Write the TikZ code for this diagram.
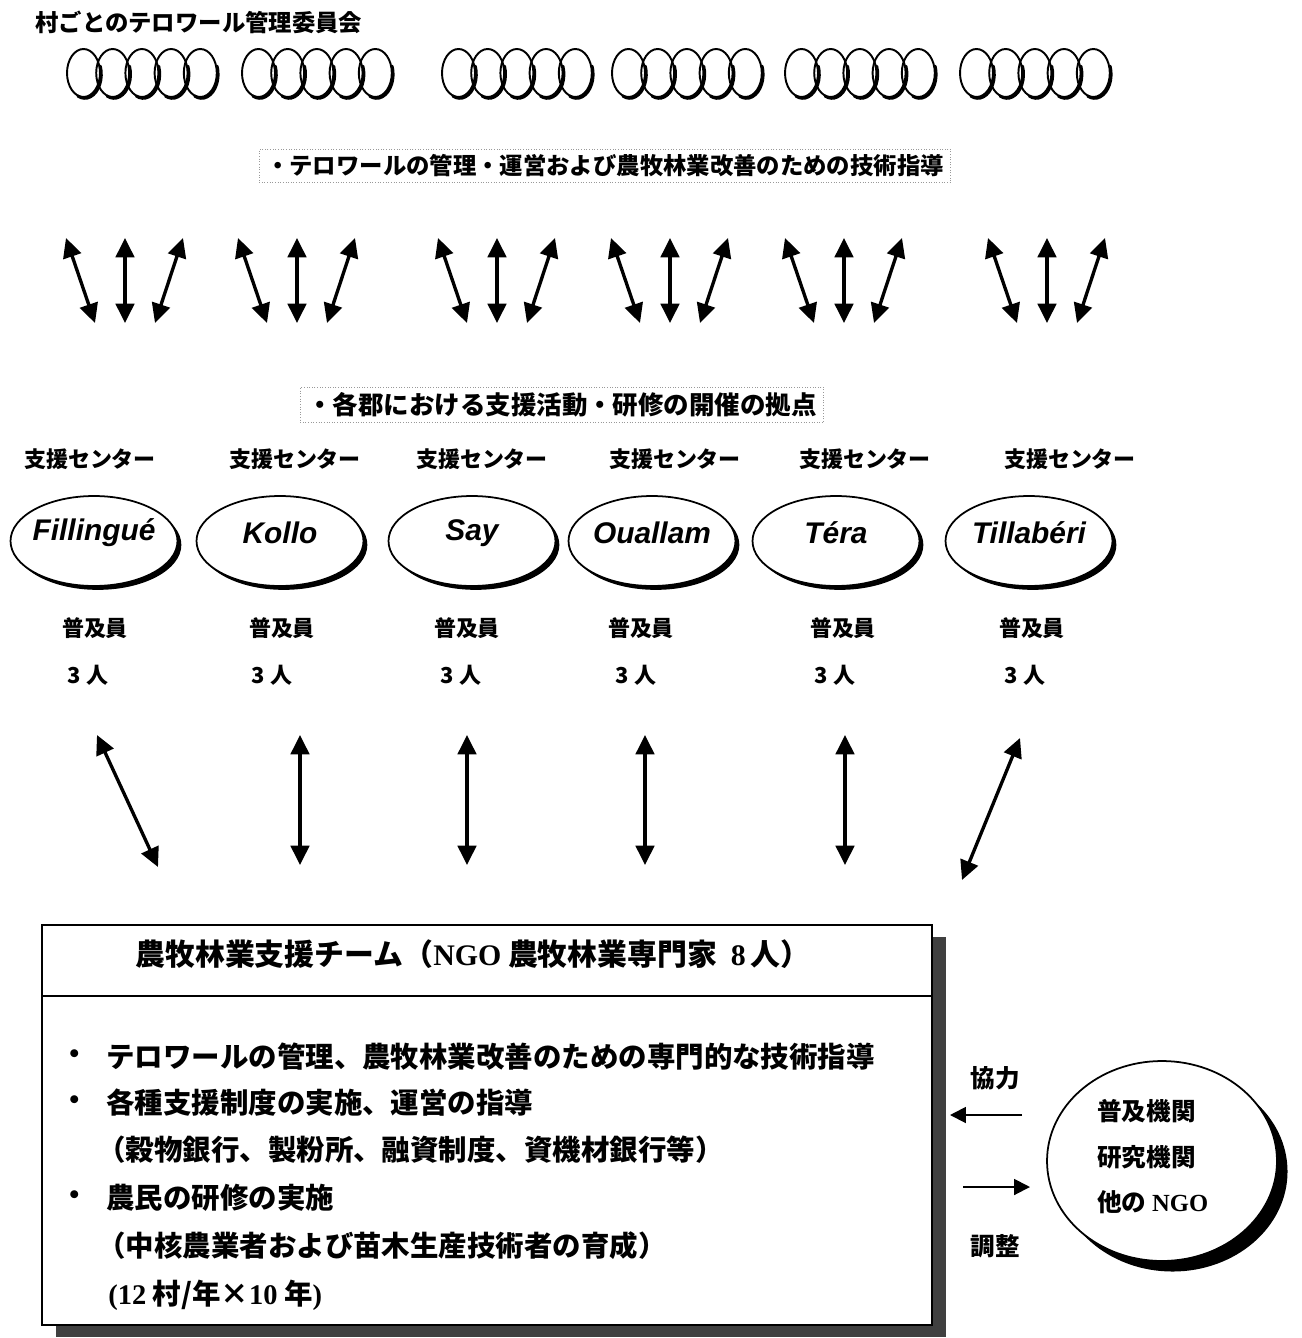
\documentclass[tikz,border=0pt]{standalone}
\usepackage{fontspec}
\usetikzlibrary{arrows.meta,shapes.geometric,shadows}
\setmainfont{Noto Sans CJK JP}
\newfontfamily\latf{Liberation Serif}
\newfontfamily\arlf{Liberation Sans}
\newcommand\myfs[1]{\fontsize{#1}{#1}\selectfont}
\begin{document}
\begin{tikzpicture}[x=0.02cm,y=-0.02cm,
  jt/.style={font=\bfseries\myfs{#1}, inner sep=0pt},
  headbox/.style={draw=black!40, densely dotted, line width=0.5pt, font=\bfseries\myfs{#1}, inner xsep=4pt, inner ysep=3pt},
  darr/.style={{Triangle[length=11pt,width=10.5pt]}-{Triangle[length=11pt,width=10.5pt]}, line width=1.9pt},
  sarr/.style={-{Triangle[length=9pt,width=9pt]}, line width=1.1pt},
  cen/.style={ellipse, draw, line width=1pt, fill=white, minimum width=3.34cm, minimum height=1.8cm, inner sep=0pt,
    drop shadow={shadow xshift=2.2pt, shadow yshift=-2.2pt, fill=black, opacity=1}},
  clab/.style={font=\arlf\bfseries\itshape\myfs{17pt}, inner sep=0pt},
  oval/.style={line width=1.1pt},
  ovalsh/.style={line width=1.7pt, line cap=round}
]
\useasboundingbox[fill=white] (0,0) rectangle (1301,1338);

% title
\node[jt=13.3pt, anchor=west] (title) at (35,22) {村ごとのテロワール管理委員会};

% village committees (ovals)
\foreach \g in {83.5,258.5,458.5,628.5,801.5,976.5}{
  \foreach \k in {0,...,4}{
    \draw[oval] (\g+\k*29.2,73) ellipse [x radius=16.5, y radius=24];
    \draw[ovalsh] (\g+\k*29.2+1.3,74.3) ++(-20:16.5 and 24) arc[start angle=-20, end angle=115, x radius=16.5, y radius=24];
  }
}

% heading 1
\node[headbox=13.3pt] (h1) at (605,166) {・テロワールの管理・運営および農牧林業改善のための技術指導};

% arrows row 1
\foreach \c [count=\i] in {125,297,497,670,844,1047}{
  \coordinate (p\i lt) at (\c-59,238);
  \coordinate (p\i lb) at (\c-30,323);
  \coordinate (p\i mt) at (\c,238);
  \coordinate (p\i mb) at (\c,323);
  \coordinate (p\i rt) at (\c+58,238);
  \coordinate (p\i rb) at (\c+30,323);
  \draw[darr] (p\i lt) -- (p\i lb);
  \draw[darr] (p\i mt) -- (p\i mb);
  \draw[darr] (p\i rt) -- (p\i rb);
}

% heading 2
\node[headbox=14.5pt] (h2) at (562,405) {・各郡における支援活動・研修の開催の拠点};

% support centers
\foreach \x [count=\i] in {90,295,482,675,865,1070}{
  \node[jt=12.5pt] (sc\i) at (\x,459) {支援センター};
}

\node[cen] (e1) at (94,541) {};
\node[cen] (e2) at (280,541) {};
\node[cen] (e3) at (472,541) {};
\node[cen] (e4) at (652,541) {};
\node[cen] (e5) at (836,541) {};
\node[cen] (e6) at (1029,541) {};
\node[clab] (l1) at ([yshift=4.5pt]e1.center) {Fillingué};
\node[clab] (l2) at ([yshift=4.5pt]e2.center) {Kollo};
\node[clab] (l3) at ([yshift=4.5pt]e3.center) {Say};
\node[clab] (l4) at ([yshift=4.5pt]e4.center) {Ouallam};
\node[clab] (l5) at ([yshift=4.5pt]e5.center) {Téra};
\node[clab] (l6) at ([yshift=4.5pt]e6.center) {Tillabéri};

\foreach \x [count=\i] in {95,282,467,641,843,1032}{
  \node[jt=12.5pt] (fk\i) at (\x,628) {普及員};
}
\foreach \x [count=\i] in {88,272,461,636,835,1025}{
  \node[jt=12.5pt] (nn\i) at (\x,675) {3 人};
}

% arrows row 2
\coordinate (q1t) at (97,735);  \coordinate (q1b) at (158,867);
\coordinate (q2t) at (300,735); \coordinate (q2b) at (300,865);
\coordinate (q3t) at (467,735); \coordinate (q3b) at (467,865);
\coordinate (q4t) at (645,735); \coordinate (q4b) at (645,865);
\coordinate (q5t) at (845,735); \coordinate (q5b) at (845,865);
\coordinate (q6t) at (1020,738); \coordinate (q6b) at (962,880);
\foreach \i in {1,...,6}{ \draw[darr] (q\i t) -- (q\i b); }

% team box
\node[draw, line width=0.9pt, fill=white, minimum width=17.8cm, minimum height=8cm, inner sep=0pt,
  drop shadow={shadow xshift=8pt, shadow yshift=-7pt, fill=black!75, opacity=1}] (box) at (487,1125) {};
\draw[line width=0.9pt] ([yshift=-1.44cm]box.north west) -- ([yshift=-1.44cm]box.north east);
\node[jt=17pt] (hdr) at (473,954) {農牧林業支援チーム（{\latf\bfseries NGO} 農牧林業専門家\ \ {\latf\bfseries 8}\,人）};

\node[jt=16.2pt] (b1) at (75,1057) {・};
\node[jt=16.2pt, anchor=west] (t1) at (106,1057) {テロワールの管理、農牧林業改善のための専門的な技術指導};
\node[jt=16.2pt] (b2) at (75,1103) {・};
\node[jt=16.2pt, anchor=west] (t2) at (106,1103) {各種支援制度の実施、運営の指導};
\node[jt=16.2pt, anchor=west] (t3) at (97,1150) {（穀物銀行、製粉所、融資制度、資機材銀行等）};
\node[jt=16.2pt] (b3) at (75,1198) {・};
\node[jt=16.2pt, anchor=west] (t4) at (106,1198) {農民の研修の実施};
\node[jt=16.2pt, anchor=west] (t5) at (97,1246) {（中核農業者および苗木生産技術者の育成）};
\node[jt=16.2pt, anchor=west] (t6) at (108,1295) {{\latf\bfseries (12} 村/年×{\latf\bfseries 10} 年{\latf\bfseries )}};

% cooperation
\node[jt=14pt] (kr) at (995,1078) {協力};
\node[jt=14pt] (ch) at (995,1246) {調整};
\node[ellipse, draw, line width=1pt, fill=white, minimum width=4.6cm, minimum height=4cm, inner sep=0pt,
  drop shadow={shadow xshift=6pt, shadow yshift=-6pt, fill=black, opacity=1}] (org) at (1162,1161) {};
\node[jt=14pt, anchor=west] (o1) at (1097,1111) {普及機関};
\node[jt=14pt, anchor=west] (o2) at (1097,1157) {研究機関};
\node[jt=14pt, anchor=west] (o3) at (1097,1202) {他の {\latf\bfseries NGO}};
\coordinate (k1s) at (1022,1115); \coordinate (k1e) at (950,1115);
\coordinate (k2s) at (963,1187);  \coordinate (k2e) at (1030,1187);
\draw[sarr] (k1s) -- (k1e);
\draw[sarr] (k2s) -- (k2e);
\end{tikzpicture}
\end{document}
